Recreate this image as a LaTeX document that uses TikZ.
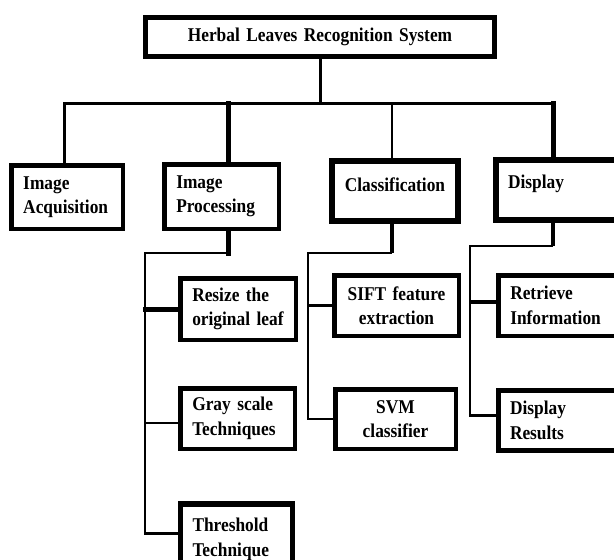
\documentclass[tikz,border=0pt]{standalone}
\usepackage{fontspec}
\setmainfont{Liberation Serif}[FakeStretch=0.89]
\tikzset{
  box/.style={draw, line width=4.5pt, minimum height=61pt, inner xsep=12pt, inner ysep=0pt,
    font=\bfseries\fontsize{19.5}{24.5}\selectfont},
  lbox/.style={box, align=left, text width=#1},
  cbox/.style={box, align=center, text width=#1},
  bus/.style={line width=3pt, line cap=rect},
  link/.style={line width=2.5pt},
  thicklink/.style={line width=5pt, line cap=rect},
}
\begin{document}
\begin{tikzpicture}[x=1pt,y=-1pt]
   \useasboundingbox (0,0) rectangle (614,560);
   \clip (0,0) rectangle (614,560);
   % 上段
   \node[cbox=325pt, line width=5pt, minimum height=39pt] (top) at (320,37) {Herbal Leaves Recognition System};
   % 中段
   \node[lbox=87.5pt, minimum height=63.5pt] (acq) at (67,197) {Image\\Acquisition};
   \node[lbox=90.5pt, minimum height=64.5pt] (proc) at (221.5,196.5) {Image\\Processing};
   \node[cbox=102pt, line width=6pt, minimum height=60pt, text depth=13pt] (cls) at (395,191) {Classification};
   \node[lbox=107pt, line width=6pt, minimum height=60pt, text depth=17pt] (disp) at (561.5,190) {Display};
   % 下段
   \node[lbox=91.5pt, minimum height=61.5pt] (resize) at (238,309) {Resize the\\original leaf};
   \node[lbox=90.5pt, minimum height=60.5pt] (gray) at (237.5,418.5) {Gray scale\\Techniques};
   \node[lbox=88pt, line width=5.5pt, minimum height=71.5pt] (thresh) at (236.5,539.5) {Threshold\\Technique};
   \node[cbox=100.5pt, minimum height=60.5pt] (sift) at (396.5,305.5) {SIFT feature\\extraction};
   \node[cbox=96.5pt, minimum height=59.5pt] (svm) at (395.5,419) {SVM\\classifier};
   \node[lbox=107pt, minimum height=60.5pt] (retr) at (563.75,305.5) {Retrieve\\Information};
   \node[lbox=107pt, line width=5pt, minimum height=60pt] (res) at (563.5,420.5) {Display\\Results};

   % 幹線
   \coordinate (bus) at (320,103);
   \draw[bus] (top.south) -- (bus);
   \draw[bus] ([xshift=-3pt]acq.north) |- ([xshift=-8.5pt]disp.north |- bus);
   \draw[thicklink] ([xshift=6.5pt]proc.north) -- ([xshift=6.5pt]proc.north |- bus);
   \draw[link] ([xshift=-3pt]cls.north) -- ([xshift=-3pt]cls.north |- bus);
   \draw[thicklink] ([xshift=-8.5pt]disp.north) -- ([xshift=-8.5pt]disp.north |- bus);

   % Image Processing の枝
   \coordinate (pbend) at (145,253);
   \draw[thicklink] ([xshift=6.5pt]proc.south) -- ([xshift=6.5pt]proc.south |- pbend);
   \draw[link] ([xshift=6.5pt]proc.south |- pbend) -- (pbend) |- ([yshift=6pt]thresh.west);
   \draw[thicklink] (pbend |- resize.west) -- (resize.west);
   \draw[link] (pbend |- gray.west) ++(0,4.5) -- ([yshift=-4.5pt]gray.west);

   % Classification の枝
   \coordinate (cbend) at (308,253);
   \draw[link, line width=4pt] ([xshift=-3pt]cls.south) -- ([xshift=-3pt]cls.south |- cbend);
   \draw[link] ([xshift=-3pt]cls.south |- cbend) -- (cbend) |- (svm.west);
   \draw[link] (cbend |- sift.west) -- (sift.west);

   % Display の枝
   \coordinate (dbend) at (470,246);
   \draw[link, line width=4.5pt] ([xshift=-8.5pt]disp.south) -- ([xshift=-8.5pt]disp.south |- dbend);
   \draw[link] ([xshift=-8.5pt]disp.south |- dbend) -- (dbend) |- ([yshift=5pt]res.west);
   \draw[link, line width=4pt] (dbend |- retr.west) ++(0,-3.5) -- ([yshift=3.5pt]retr.west);
\end{tikzpicture}
\end{document}
